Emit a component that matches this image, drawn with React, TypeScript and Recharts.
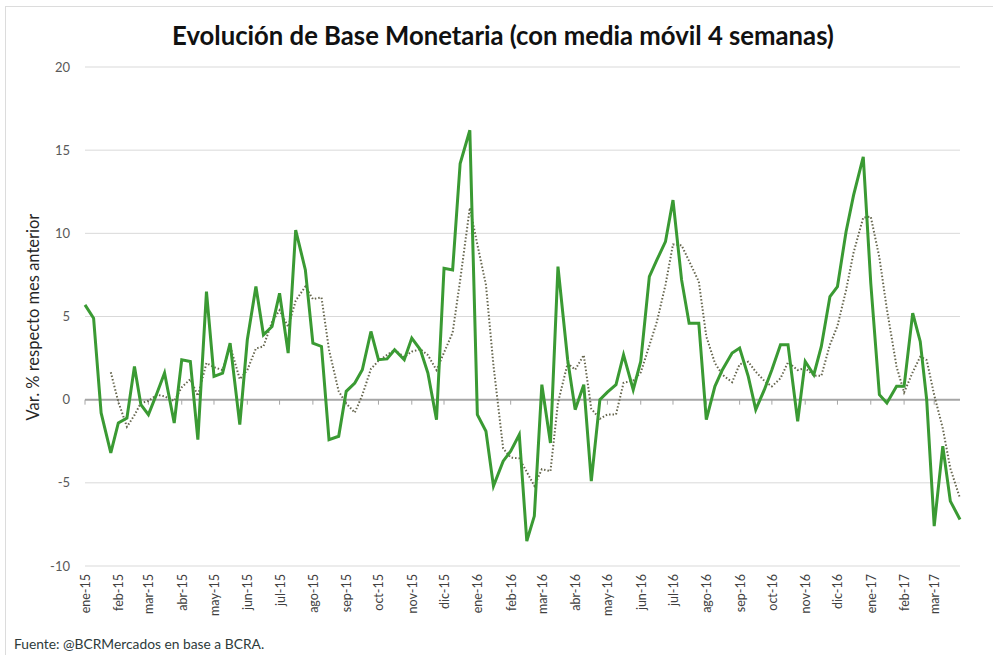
import React from 'react';
import {
  CartesianGrid,
  Line,
  LineChart,
  ReferenceLine,
  XAxis,
  YAxis,
} from 'recharts';

// etiquetas de meses (eje X)
const meses = [
  'ene-15', 'feb-15', 'mar-15', 'abr-15', 'may-15', 'jun-15', 'jul-15',
  'ago-15', 'sep-15', 'oct-15', 'nov-15', 'dic-15',
  'ene-16', 'feb-16', 'mar-16', 'abr-16', 'may-16', 'jun-16', 'jul-16',
  'ago-16', 'sep-16', 'oct-16', 'nov-16', 'dic-16',
  'ene-17', 'feb-17', 'mar-17',
];

// días de cada mes con dato (0 = último día del mes)
const diasDato = [7, 15, 22, 0];

// variación % respecto mes anterior
const baseMonetaria = [
  5.7, 4.9, -0.8, -3.2,
  -1.4, -1.1, 2.0, -0.3,
  -0.9, 0.4, 1.6, -1.4,
  2.4, 2.3, -2.4, 6.5,
  1.4, 1.6, 3.4, -1.5,
  3.6, 6.8, 3.9, 4.4,
  6.4, 2.8, 10.2, 7.8,
  3.4, 3.2, -2.4, -2.2,
  0.5, 1.0, 1.8, 4.1,
  2.4, 2.45, 3.0, 2.4,
  3.7, 3.0, 1.6, -1.2,
  7.9, 7.8, 14.2, 16.2,
  -0.9, -1.9, -5.2, -3.7,
  -3.1, -2.1, -8.5, -7.0,
  0.9, -2.6, 8.0, 2.4,
  -0.6, 0.9, -4.9, 0.0,
  0.45, 0.9, 2.7, 0.6,
  2.3, 7.4, 8.4, 9.5,
  12.0, 7.2, 4.6, 4.6,
  -1.2, 0.8, 1.8, 2.8,
  3.1, 1.4, -0.6, 0.6,
  1.8, 3.3, 3.3, -1.3,
  2.3, 1.5, 3.2, 6.2,
  6.8, 10.1, 12.3, 14.6,
  7.0, 0.3, -0.2, 0.8,
  0.8, 5.2, 3.5, 0.0,
  -7.6, -2.8, -6.1, -7.2,
];

// media móvil 4 semanas (línea punteada)
const mediaMovil = [
  null, null, null, 1.65,
  -0.13, -1.63, -0.93, -0.2,
  -0.08, 0.3, 0.2, -0.08,
  0.75, 1.23, 0.23, 2.2,
  1.95, 1.78, 3.23, 1.23,
  1.78, 3.08, 3.2, 4.68,
  5.38, 4.38, 5.95, 6.8,
  6.05, 6.15, 3.0, 0.5,
  -0.23, -0.78, 0.28, 1.85,
  2.33, 2.69, 2.99, 2.56,
  2.89, 3.03, 2.68, 1.78,
  2.83, 4.03, 7.18, 11.53,
  9.33, 6.9, 2.05, -2.93,
  -3.48, -3.53, -4.35, -5.18,
  -4.18, -4.3, -0.18, 2.18,
  1.8, 2.68, -0.55, -1.15,
  -0.89, -0.89, 1.01, 1.16,
  1.63, 3.25, 4.68, 6.9,
  9.33, 9.28, 8.33, 7.1,
  3.8, 2.2, 1.5, 1.05,
  2.13, 2.28, 1.68, 1.13,
  0.8, 1.28, 2.25, 1.78,
  1.9, 1.45, 1.43, 3.3,
  4.43, 6.58, 8.85, 10.95,
  11.0, 8.55, 5.43, 1.98,
  0.43, 1.65, 2.58, 2.38,
  0.28, -1.73, -4.13, -5.93,
];

const yTicks = [-10, -5, 0, 5, 10, 15, 20];

const DIA = 86400000;
const inicio = Date.UTC(2015, 0, 7);

const diaDe = (mes: number, dia: number) => {
  const anio = 2015 + Math.floor(mes / 12);
  const m = mes % 12;
  const fecha = dia === 0 ? Date.UTC(anio, m + 1, 0) : Date.UTC(anio, m, dia);
  return Math.round((fecha - inicio) / DIA);
};

const data = baseMonetaria.map((v, i) => ({
  t: diaDe(Math.floor(i / 4), diasDato[i % 4]),
  base: v,
  media: mediaMovil[i],
}));

const xTicks = meses.map((_, i) => diaDe(i, 7));
const tMax = data[data.length - 1].t;

const font = 'Lato, "Open Sans", sans-serif';

const MesTick = (props: any) => {
  const { x, y, payload } = props;
  const idx = xTicks.indexOf(payload.value);
  return (
    <text
      x={x}
      y={y}
      transform={`rotate(-90, ${x}, ${y})`}
      textAnchor='end'
      dy='0.4em'
      fontSize={12.5}
      fontFamily={font}
      fill='#404040'
    >
      {meses[idx]}
    </text>
  );
};

export default function App() {
  return (
    <div
      style={{
        position: 'fixed',
        left: 0,
        top: 0,
        width: 993,
        height: 655,
        overflow: 'hidden',
        background: '#fff',
        fontFamily: font,
      }}
    >
      {/* borde del gráfico */}
      <div
        style={{
          position: 'absolute',
          left: 5,
          top: 6,
          width: 1000,
          height: 700,
          border: '1px solid #dcdcdc',
        }}
      />

      <div
        style={{
          position: 'absolute',
          left: 503,
          top: 20,
          transform: 'translateX(-50%)',
          whiteSpace: 'nowrap',
          fontSize: 25.7,
          fontWeight: 700,
          color: '#111',
        }}
      >
        Evolución de Base Monetaria (con media móvil 4 semanas)
      </div>

      <div
        style={{
          position: 'absolute',
          left: 33,
          top: 317,
          transform: 'translate(-50%, -50%) rotate(-90deg)',
          whiteSpace: 'nowrap',
          fontSize: 16.5,
          color: '#262626',
        }}
      >
        Var. % respecto mes anterior
      </div>

      <div
        style={{
          position: 'absolute',
          left: 14,
          top: 635,
          whiteSpace: 'nowrap',
          fontSize: 13.8,
          color: '#2e3b3b',
        }}
      >
        Fuente: @BCRMercados en base a BCRA.
      </div>

      <div style={{ position: 'absolute', left: 0, top: 0 }}>
        <LineChart
          width={993}
          height={655}
          data={data}
          margin={{ top: 67, right: 33, bottom: 29, left: 40 }}
        >
          <CartesianGrid vertical={false} stroke='#d9d9d9' />
          <XAxis
            type='number'
            dataKey='t'
            domain={[0, tMax]}
            ticks={xTicks}
            interval={0}
            tick={<MesTick />}
            axisLine={false}
            tickLine={false}
            height={60}
          />
          <YAxis
            domain={[-10, 20]}
            ticks={yTicks}
            width={45}
            axisLine={false}
            tickLine={false}
            tickMargin={9}
            tick={{ fontSize: 13, fill: '#595959', fontFamily: font }}
          />
          <ReferenceLine y={0} stroke='#a6a6a6' strokeWidth={2} />
          {xTicks.map((t) => (
            <ReferenceLine
              key={t}
              segment={[
                { x: t, y: 0 },
                { x: t, y: -0.3 },
              ]}
              stroke='#a6a6a6'
            />
          ))}
          <Line
            type='linear'
            dataKey='media'
            stroke='#66664e'
            strokeWidth={2}
            strokeDasharray='1.5 2'
            dot={false}
            isAnimationActive={false}
          />
          <Line
            type='linear'
            dataKey='base'
            stroke='#3a9a33'
            strokeWidth={3}
            dot={false}
            isAnimationActive={false}
          />
        </LineChart>
      </div>
    </div>
  );
}
